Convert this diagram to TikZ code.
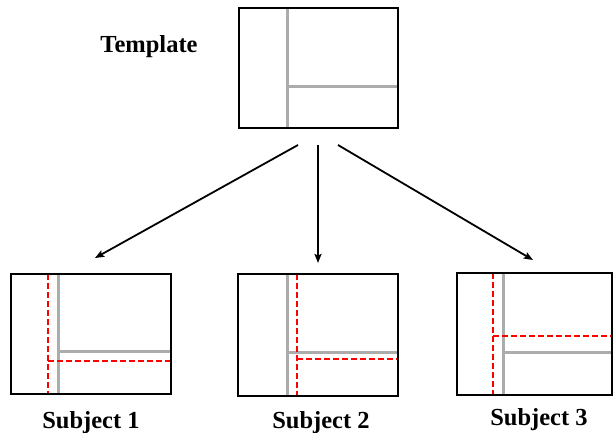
\documentclass[tikz,border=0pt]{standalone}
\usepackage{fontspec}
\setmainfont{Liberation Serif}
\usetikzlibrary{arrows.meta}
\begin{document}
\begin{tikzpicture}[x=1pt,y=1pt,
  frame/.style={draw=black,line width=2pt},
  gline/.style={draw=gray!65,line width=3pt},
  rline/.style={draw=red,line width=1.6pt,dash pattern=on 6pt off 3pt},
  conn/.style={draw=black,line width=1.8pt,-{Stealth[length=9pt,width=7pt,inset=1.5pt]}},
  lbl/.style={font=\fontsize{24.5}{28}\selectfont\bfseries,anchor=base,inner sep=0pt}]
\useasboundingbox (0,0) rectangle (614,432);
\fill[white] (0,0) rectangle (614,432);
% Template
\draw[gline] (287,424) -- (287,304);
\draw[gline] (287,345) -- (398,345);
\draw[frame] (239,424) rectangle (398,304);
\node[lbl] (tlabel) at (149,379) {Template};
% Subject 1
\draw[gline] (58,158) -- (58,38);
\draw[gline] (58,81) -- (171,81);
\draw[rline] (48,158) -- (48,38);
\draw[rline] (48,71) -- (171,71);
\draw[frame] (11,158) rectangle (171,38);
\node[lbl] (s1) at (91,4) {Subject 1};
% Subject 2
\draw[gline] (287,158) -- (287,36);
\draw[gline] (287,80) -- (398,80);
\draw[rline] (297,158) -- (297,36);
\draw[rline] (297,73) -- (398,73);
\draw[frame] (238,158) rectangle (398,36);
\node[lbl] (s2) at (321,4) {Subject 2};
% Subject 3
\draw[gline] (503,159) -- (503,37);
\draw[gline] (503,80) -- (612,80);
\draw[rline] (493,159) -- (493,37);
\draw[rline] (493,96) -- (612,96);
\draw[frame] (457,159) rectangle (612,37);
\node[lbl] (s3) at (539,7) {Subject 3};
% arrows
\coordinate (a1s) at (298,287);
\coordinate (a1e) at (95,174);
\coordinate (a2s) at (318,287);
\coordinate (a2e) at (318,169);
\coordinate (a3s) at (338,287);
\coordinate (a3e) at (533,172);
\draw[conn] (a1s) -- (a1e);
\draw[conn] (a2s) -- (a2e);
\draw[conn] (a3s) -- (a3e);
\end{tikzpicture}
\end{document}
